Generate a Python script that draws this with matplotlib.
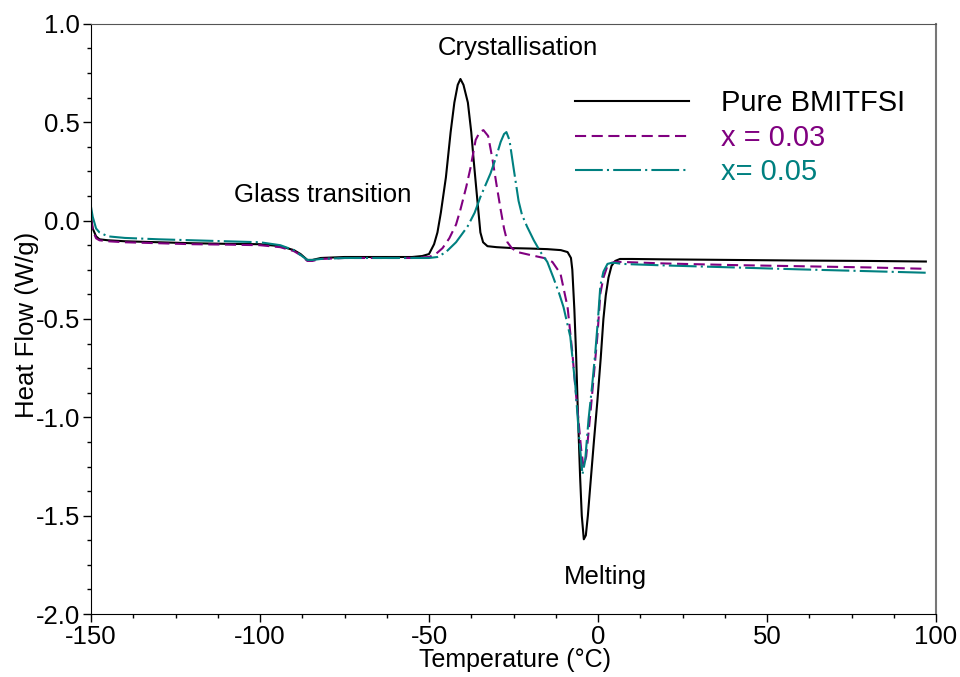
import matplotlib.pyplot as plt
import numpy as np

plt.rcParams['font.family'] = ['Liberation Sans', 'DejaVu Sans']
plt.rcParams['lines.scale_dashes'] = False
plt.rcParams['axes.unicode_minus'] = False

# Pure BMITFSI
t_pure = [-150, -149.5, -148.5, -147.5, -145, -140, -130, -120, -110, -100, -94, -90, -88, -86,
          -84.5, -82, -75, -65, -55, -52, -50, -48.5, -47.5, -46.5, -45, -43.6, -42.5, -41.5,
          -40.7, -39.8, -38.5, -37.5, -36.8, -36, -35.4, -34.8, -34, -32.7, -30, -25, -20, -15,
          -11, -9, -8, -7.6, -7, -6.5, -6, -5.3, -4.8, -4.2, -3.6, -3, -2.2, -1.2, -0.2, 0.8,
          1.6, 2.3, 3.1, 4, 5.1, 6.5, 10, 20, 40, 60, 80, 97]
hf_pure = [0.02, -0.04, -0.08, -0.095, -0.10, -0.105, -0.11, -0.115, -0.118, -0.12, -0.13, -0.15,
           -0.17, -0.20, -0.20, -0.19, -0.185, -0.185, -0.185, -0.18, -0.17, -0.12, -0.06, 0.04,
           0.22, 0.45, 0.60, 0.69, 0.72, 0.69, 0.60, 0.45, 0.31, 0.16, 0.05, -0.06, -0.11, -0.13,
           -0.135, -0.14, -0.142, -0.145, -0.15, -0.16, -0.19, -0.25, -0.45, -0.67, -0.95, -1.30,
           -1.50, -1.62, -1.60, -1.50, -1.33, -1.12, -0.92, -0.70, -0.50, -0.38, -0.29, -0.23,
           -0.205, -0.195, -0.195, -0.197, -0.20, -0.203, -0.205, -0.208]

# x = 0.03
t_x03 = [-150, -149.5, -148.5, -147.5, -145, -140, -130, -120, -110, -100, -94, -90, -88, -86,
         -84.5, -82, -75, -65, -55, -50, -48, -46, -44, -42, -40.7, -39, -37.7, -36.2, -35,
         -33.9, -32.5, -31.2, -30, -28.8, -27.8, -26.8, -25.5, -23.8, -20, -16, -13.5, -11.1,
         -9, -7.6, -6.7, -5.8, -5, -4.3, -3.5, -2.2, -1.2, -0.2, 0.7, 1.6, 2.8, 4, 5.1, 7, 10,
         20, 40, 60, 80, 97]
hf_x03 = [0.01, -0.05, -0.09, -0.10, -0.105, -0.11, -0.115, -0.12, -0.122, -0.125, -0.135, -0.155,
          -0.175, -0.205, -0.205, -0.195, -0.19, -0.19, -0.19, -0.185, -0.17, -0.14, -0.09, -0.02,
          0.056, 0.17, 0.27, 0.41, 0.45, 0.46, 0.43, 0.31, 0.18, 0.056, -0.04, -0.11, -0.14,
          -0.16, -0.175, -0.19, -0.21, -0.27, -0.44, -0.67, -0.85, -1.01, -1.16, -1.25, -1.20,
          -0.97, -0.78, -0.59, -0.37, -0.29, -0.23, -0.215, -0.21, -0.21, -0.212, -0.218, -0.226,
          -0.232, -0.238, -0.245]

# x = 0.05
t_x05 = [-150, -149.5, -148.5, -147.5, -145, -140, -130, -120, -110, -100, -94, -90, -88, -86,
         -84.5, -82, -75, -65, -55, -50, -47.5, -45, -42, -38.6, -36.5, -34.8, -33.3, -31.8,
         -30.2, -28.8, -27.8, -27.1, -26.2, -25, -23.5, -22.5, -21, -19, -17, -15, -13.2, -11.5,
         -10.2, -8.2, -6.7, -5.6, -4.6, -3.8, -2.8, -1.8, -0.8, 0, 0.7, 1.6, 2.8, 4, 5.1, 7, 10,
         20, 40, 60, 80, 97]
hf_x05 = [0.07, 0.02, -0.04, -0.06, -0.08, -0.088, -0.095, -0.10, -0.105, -0.11, -0.125, -0.15,
          -0.175, -0.20, -0.20, -0.195, -0.19, -0.19, -0.19, -0.19, -0.185, -0.16, -0.11, -0.03,
          0.04, 0.12, 0.18, 0.24, 0.32, 0.40, 0.44, 0.45, 0.41, 0.27, 0.10, 0.03, -0.03, -0.10,
          -0.16, -0.21, -0.29, -0.37, -0.44, -0.59, -0.84, -1.10, -1.29, -1.22, -1.01, -0.85,
          -0.67, -0.50, -0.33, -0.26, -0.22, -0.215, -0.215, -0.22, -0.222, -0.228, -0.238,
          -0.248, -0.257, -0.265]

fig = plt.figure(figsize=(9.6, 6.77), dpi=100)
ax = fig.add_axes([0.0948, 0.093, 0.8802, 0.8717])

ax.plot(t_pure, hf_pure, color='black', lw=1.5, label='Pure BMITFSI')
ax.plot(t_x03, hf_x03, color='#800080', lw=1.5, dashes=(8, 4), label='x = 0.03')
ax.plot(t_x05, hf_x05, color='#008080', lw=1.5, dashes=(20, 3, 1.5, 3), label='x= 0.05')

ax.set_xlim(-150, 100)
ax.set_ylim(-2.0, 1.0)
ax.set_xticks(np.arange(-150, 101, 50))
ax.set_yticks(np.arange(-2.0, 1.01, 0.5))
ax.set_xticks(np.arange(-150, 101, 12.5), minor=True)
ax.set_yticks(np.arange(-2.0, 1.01, 0.125), minor=True)
ax.set_yticklabels(['%.1f' % v for v in np.arange(-2.0, 1.01, 0.5)])
ax.tick_params(which='major', direction='out', length=6, width=1, labelsize=18.5, pad=2)
ax.tick_params(which='minor', direction='out', length=3, width=1)
ax.tick_params(top=False, right=False)

ax.spines['top'].set_color('#555555')
ax.spines['right'].set_color('#777777')
ax.spines['right'].set_linewidth(1.5)

ax.set_xlabel('Temperature (°C)', fontsize=18)
ax.set_ylabel('Heat Flow (W/g)', fontsize=18.5)
ax.xaxis.set_label_coords(0.502, -0.057)
ax.yaxis.set_label_coords(-0.062, 0.49)

ax.text(-23.7, 0.878, 'Crystallisation', fontsize=18.5, ha='center', va='center')
ax.text(-81.4, 0.13, 'Glass transition', fontsize=18.5, ha='center', va='center')
ax.text(2.1, -1.81, 'Melting', fontsize=18.5, ha='center', va='center')

ax.legend(loc='upper left', bbox_to_anchor=(0.573, 0.889), frameon=False, fontsize=21,
          handlelength=3.9, handletextpad=1.1, labelspacing=0.22, borderpad=0,
          borderaxespad=0, labelcolor='linecolor')

fig.savefig('out.png', dpi=100)
